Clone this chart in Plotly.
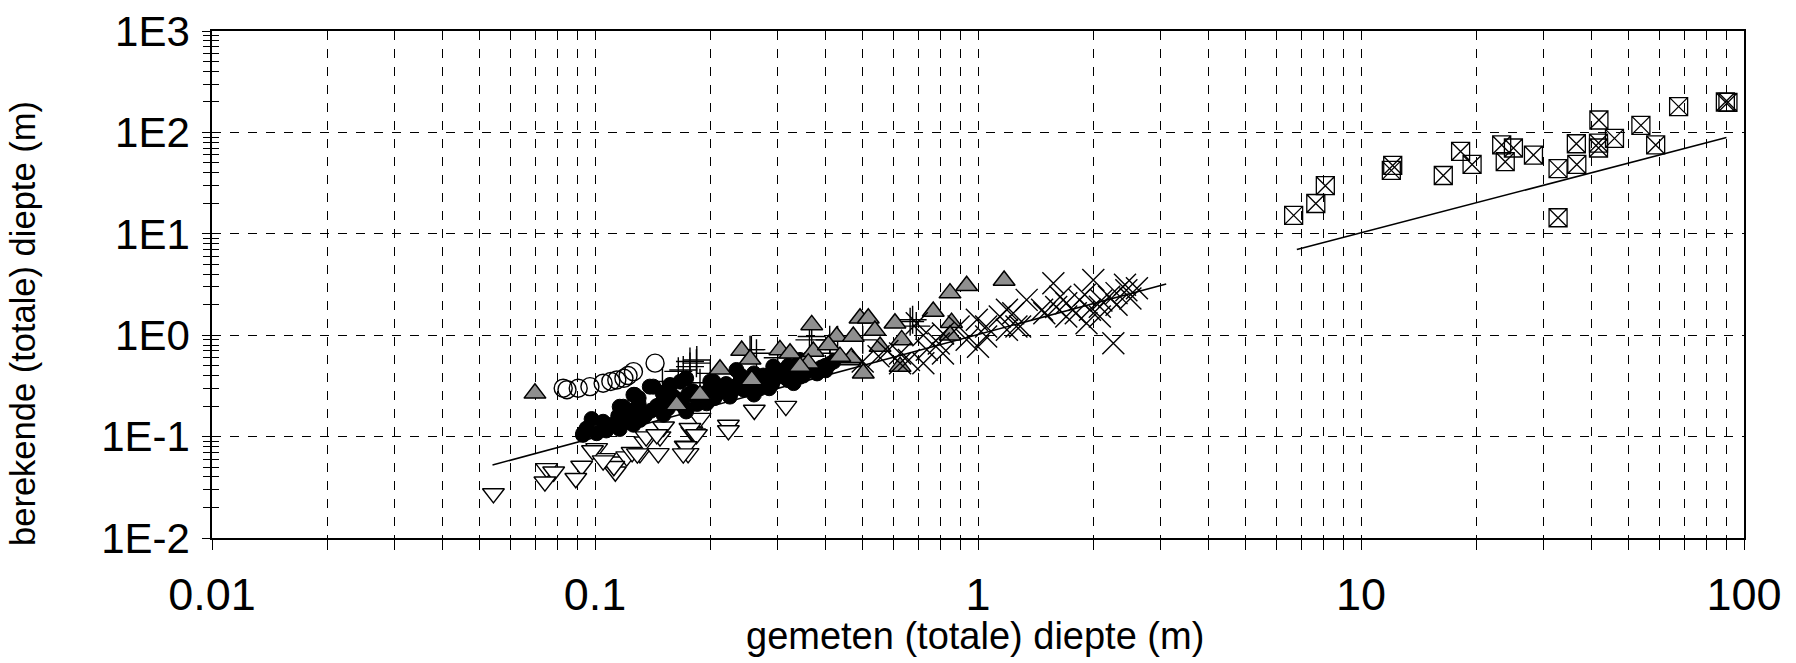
import plotly.graph_objects as go

# ---------------- data ----------------
x_tick_vals = [0.01, 0.1, 1, 10, 100]
x_tick_text = ["0.01", "0.1", "1", "10", "100"]
y_tick_vals = [0.01, 0.1, 1, 10, 100, 1000]
y_tick_text = ["1E-2", "1E-1", "1E0", "1E1", "1E2", "1E3"]
x_title = "gemeten (totale) diepte (m)"
y_title = "berekende (totale) diepte (m)"

open_circle_x = [0.0826, 0.0845, 0.0904, 0.097, 0.105, 0.110, 0.114, 0.119, 0.122, 0.126, 0.1435]
open_circle_y = [0.300, 0.290, 0.300, 0.311, 0.336, 0.350, 0.362, 0.376, 0.400, 0.437, 0.530]

filled_circle_x = [0.098, 0.126, 0.116, 0.1186, 0.139, 0.167, 0.0932, 0.343, 0.127, 0.142, 0.157,
                   0.173, 0.204, 0.234, 0.292, 0.330, 0.343, 0.116, 0.131, 0.151, 0.173, 0.1957,
                   0.225, 0.270, 0.330, 0.380, 0.254, 0.310, 0.093, 0.101, 0.107, 0.116, 0.126,
                   0.140, 0.150, 0.160, 0.180, 0.190, 0.200, 0.210, 0.220, 0.240, 0.260, 0.280,
                   0.300, 0.320, 0.360, 0.400, 0.420, 0.170, 0.200, 0.230, 0.130, 0.120, 0.110,
                   0.260, 0.290, 0.350, 0.400,
                   0.095, 0.105, 0.115, 0.125, 0.135, 0.145, 0.155, 0.165, 0.175, 0.185, 0.195,
                   0.205, 0.215, 0.225, 0.235, 0.245, 0.255, 0.265, 0.275, 0.285, 0.295, 0.310,
                   0.320, 0.335, 0.350, 0.370, 0.390, 0.410, 0.150, 0.130, 0.200, 0.240]
filled_circle_y = [0.149, 0.258, 0.197, 0.197, 0.311, 0.348, 0.108, 0.390, 0.258, 0.311, 0.323,
                   0.376, 0.348, 0.454, 0.490, 0.420, 0.570, 0.125, 0.146, 0.164, 0.177, 0.213,
                   0.248, 0.300, 0.337, 0.420, 0.311, 0.390, 0.104, 0.108, 0.115, 0.119, 0.131,
                   0.180, 0.220, 0.250, 0.280, 0.230, 0.300, 0.270, 0.330, 0.360, 0.420, 0.370,
                   0.440, 0.500, 0.470, 0.500, 0.550, 0.200, 0.250, 0.290, 0.210, 0.160, 0.130,
                   0.260, 0.330, 0.400, 0.450,
                   0.120, 0.140, 0.160, 0.180, 0.160, 0.200, 0.190, 0.230, 0.260, 0.210, 0.270,
                   0.240, 0.300, 0.280, 0.320, 0.290, 0.370, 0.340, 0.400, 0.300, 0.380, 0.450,
                   0.360, 0.470, 0.520, 0.460, 0.480, 0.520, 0.270, 0.240, 0.350, 0.400]

gray_tri_x = [0.0697, 0.1634, 0.188, 0.212, 0.2415, 0.254, 0.2566, 0.304, 0.323, 0.353, 0.368,
              0.3715, 0.3605, 0.4276, 0.4725, 0.492, 0.517, 0.538, 0.463, 0.467, 0.5017, 0.607,
              0.632, 0.626, 0.764, 0.845, 0.934, 1.17, 0.853, 0.845, 0.555, 0.407, 0.436, 0.343]
gray_tri_y = [0.267, 0.205, 0.258, 0.461, 0.705, 0.580, 0.362, 0.716, 0.664, 0.537, 1.264,
              0.689, 0.530, 0.969, 0.969, 1.47, 1.47, 1.11, 0.570, 0.600, 0.421, 1.313,
              0.899, 0.490, 1.71, 2.60, 3.07, 3.46, 1.33, 1.00, 0.772, 0.802, 0.615, 0.490]

down_tri_x = [0.0543, 0.0748, 0.078, 0.074, 0.0923, 0.0891, 0.101, 0.106, 0.114, 0.113, 0.121,
              0.125, 0.131, 0.135, 0.1463, 0.1478, 0.151, 0.175, 0.172, 0.179, 0.182, 0.188,
              0.223, 0.223, 0.2606, 0.315, 0.136, 0.145, 0.177, 0.184, 0.173, 0.170, 0.129,
              0.112, 0.0985, 0.105]
down_tri_y = [0.0275, 0.0486, 0.045, 0.0359, 0.0513, 0.0388, 0.0766, 0.061, 0.0565, 0.045, 0.0634,
              0.070, 0.0684, 0.0891, 0.0684, 0.0998, 0.125, 0.0684, 0.0807, 0.1117, 0.107, 0.152,
              0.130, 0.115, 0.183, 0.200, 0.100, 0.105, 0.121, 0.105, 0.080, 0.068, 0.068,
              0.051, 0.073, 0.058]

plus_x = [0.1844, 0.170, 0.177, 0.254, 0.177, 0.184, 0.165, 0.188, 0.368, 0.264, 0.363, 0.430,
          0.665, 0.690, 0.256, 0.411, 0.675, 0.410, 0.300, 0.500, 0.200, 0.150]
plus_y = [0.570, 0.454, 0.490, 0.720, 0.550, 0.530, 0.440, 0.340, 0.970, 0.664, 0.900, 0.900,
          1.36, 1.23, 0.720, 0.664, 1.42, 0.900, 0.600, 0.900, 0.420, 0.350]

cross_x = [1.573, 2.00, 2.42, 2.256, 1.34, 1.70, 1.84, 1.96, 2.08, 2.30, 2.44, 1.92, 2.08, 1.236,
           1.19, 1.288, 1.49, 1.64, 1.47, 1.80, 2.20, 1.70, 0.692, 0.72, 0.735, 0.79, 0.89, 0.934,
           0.993, 1.05, 1.14, 1.19, 1.00, 1.05, 0.81, 0.66, 0.626, 1.26, 0.72, 0.81, 0.626, 0.50,
           0.55, 0.58, 2.50, 2.60, 1.60, 2.10, 1.90, 2.30]
cross_y = [3.26, 3.51, 3.14, 0.834, 2.23, 2.07, 2.23, 1.78, 1.91, 2.60, 2.78, 1.31, 1.53, 1.65,
           1.13, 1.22, 1.65, 2.40, 1.78, 1.65, 2.40, 1.53, 1.31, 1.00, 0.72, 0.83, 1.22, 0.90,
           1.42, 1.22, 1.53, 1.78, 0.77, 0.97, 1.04, 0.57, 0.66, 1.22, 0.53, 0.66, 0.53, 0.55,
           0.62, 0.70, 2.30, 2.90, 1.90, 2.20, 2.50, 2.00]

box_x = [6.67, 7.62, 8.07, 12.1, 12.0, 16.4, 18.2, 19.5, 23.3, 25.0, 23.8, 28.2, 32.7, 36.6,
         32.7, 36.5, 41.8, 41.7, 41.7, 45.9, 53.8, 58.8, 67.5, 89.4, 90.8]
box_y = [15.2, 19.9, 29.8, 47.2, 42.2, 37.6, 64.9, 48.3, 75.2, 70.2, 51.4, 59.8, 43.9, 48.3,
         14.4, 77.3, 132.5, 78.5, 70.2, 87.3, 117.3, 75.2, 179.6, 199.5, 198.0]

line1_x = [0.054, 3.1]
line1_y = [0.0525, 3.2]
line2_x = [6.8, 90.0]
line2_y = [7.0, 89.0]

# ---------------- figure ----------------
FONT = "Liberation Sans, Arial, sans-serif"
fig = go.Figure()

fig.add_trace(go.Scatter(x=line1_x, y=line1_y, mode="lines",
                         line=dict(color="black", width=1.6), hoverinfo="skip"))
fig.add_trace(go.Scatter(x=line2_x, y=line2_y, mode="lines",
                         line=dict(color="black", width=1.6), hoverinfo="skip"))

fig.add_trace(go.Scatter(x=down_tri_x, y=down_tri_y, mode="markers",
                         marker=dict(symbol="triangle-down", size=19, color="white",
                                     line=dict(color="black", width=1.4))))
fig.add_trace(go.Scatter(x=filled_circle_x, y=filled_circle_y, mode="markers",
                         marker=dict(symbol="circle", size=15, color="black",
                                     line=dict(color="black", width=1))))
fig.add_trace(go.Scatter(x=open_circle_x, y=open_circle_y, mode="markers",
                         marker=dict(symbol="circle-open", size=18, color="black",
                                     line=dict(color="black", width=1.4))))
fig.add_trace(go.Scatter(x=plus_x, y=plus_y, mode="markers",
                         marker=dict(symbol="cross-thin-open", size=20, color="black",
                                     line=dict(color="black", width=1.4))))
fig.add_trace(go.Scatter(x=gray_tri_x, y=gray_tri_y, mode="markers",
                         marker=dict(symbol="triangle-up", size=19, color="#8f8f8f",
                                     line=dict(color="black", width=1.5))))
fig.add_trace(go.Scatter(x=cross_x, y=cross_y, mode="markers",
                         marker=dict(symbol="x-thin-open", size=22, color="black",
                                     line=dict(color="black", width=1.4))))
fig.add_trace(go.Scatter(x=box_x, y=box_y, mode="markers",
                         marker=dict(symbol="square-x-open", size=18, color="black",
                                     line=dict(color="black", width=1.3))))
# dummy trace to activate the overlaid tick axis
fig.add_trace(go.Scatter(x=[None], y=[None], yaxis="y2", mode="markers", hoverinfo="skip"))

fig.update_layout(
    width=1796, height=663,
    margin=dict(l=212, r=52, t=31, b=125),
    paper_bgcolor="white", plot_bgcolor="white",
    showlegend=False,
    font=dict(family=FONT, color="black"),
    xaxis=dict(
        type="log", range=[-2, 2],
        tickmode="array", tickvals=x_tick_vals, ticktext=x_tick_text,
        tickfont=dict(size=45, family=FONT, color="black"),
        ticks="outside", ticklen=10, tickcolor="black", tickwidth=1,
        ticklabelstandoff=6,
        showgrid=True, gridcolor="black", gridwidth=1, griddash="dash",
        minor=dict(dtick="D1", ticks="outside", ticklen=10, tickcolor="black",
                   showgrid=True, gridcolor="black", gridwidth=1, griddash="dash"),
        showline=True, mirror=True, linecolor="black", linewidth=1.5,
        zeroline=False, automargin=False,
    ),
    yaxis=dict(
        type="log", range=[-2, 3],
        tickmode="array", tickvals=y_tick_vals, ticktext=y_tick_text,
        tickfont=dict(size=42, family=FONT, color="black"),
        ticks="outside", ticklen=8, tickcolor="black", tickwidth=1,
        ticklabelstandoff=4,
        showgrid=True, gridcolor="black", gridwidth=1, griddash="dash",
        minor=dict(dtick="D1", ticks="outside", ticklen=7, tickcolor="black",
                   showgrid=False),
        showline=True, mirror=True, linecolor="black", linewidth=1.5,
        zeroline=False, automargin=False,
    ),
    yaxis2=dict(
        type="log", range=[-2, 3], overlaying="y", side="left", anchor="x",
        tickmode="array", tickvals=y_tick_vals, showticklabels=False,
        ticks="inside", ticklen=8, tickcolor="black",
        minor=dict(dtick="D1", ticks="inside", ticklen=7, tickcolor="black", showgrid=False),
        showgrid=False, showline=False, zeroline=False,
    ),
    annotations=[
        dict(text=x_title, xref="paper", yref="paper", x=0.498, y=-0.193,
             xanchor="center", yanchor="middle", showarrow=False,
             font=dict(size=38, family=FONT, color="black")),
        dict(text=y_title, xref="paper", yref="paper", x=-0.1234, y=0.424,
             xanchor="center", yanchor="middle", textangle=-90, showarrow=False,
             font=dict(size=34.5, family=FONT, color="black")),
    ],
)

fig.write_html("out.html")
